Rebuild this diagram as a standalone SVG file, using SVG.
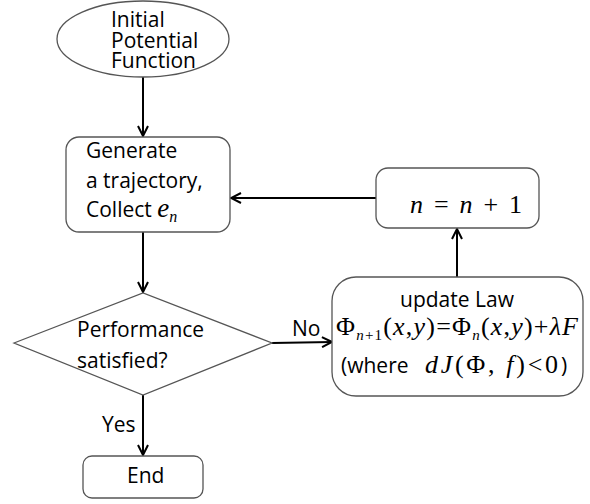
<svg xmlns="http://www.w3.org/2000/svg" width="590" height="504" viewBox="0 0 590 504">
<style>
.node{fill:#fff;stroke:#555;stroke-width:1.3}
.lbl{font-family:"Open Sans","Noto Sans","Liberation Sans",sans-serif;font-size:21px;fill:#000}
.math{font-family:"Liberation Serif","Times New Roman",serif;fill:#000}
.edge{fill:none;stroke:#000;stroke-width:2}
</style>
<defs>
<marker id="ah" viewBox="0 0 12 12" refX="11" refY="6" markerWidth="12" markerHeight="12" markerUnits="userSpaceOnUse" orient="auto">
<path d="M1,1 L11,6 L1,11" fill="none" stroke="#000" stroke-width="2"/>
</marker>
</defs>
<rect width="590" height="504" fill="#fff"/>
<g id="connectors">
<line class="edge" x1="143" y1="77" x2="143" y2="136" marker-end="url(#ah)"/>
<line class="edge" x1="143" y1="232" x2="143" y2="292" marker-end="url(#ah)"/>
<line class="edge" x1="143" y1="395" x2="143" y2="455" marker-end="url(#ah)"/>
<line class="edge" x1="272" y1="343" x2="332" y2="342" marker-end="url(#ah)"/>
<line class="edge" x1="457" y1="277" x2="457" y2="229" marker-end="url(#ah)"/>
<line class="edge" x1="376" y1="198" x2="231" y2="198" marker-end="url(#ah)"/>
<text class="lbl" x="292" y="336">No</text>
<text class="lbl" x="102" y="432">Yes</text>
</g>
<g id="start">
<ellipse class="node" cx="143" cy="39" rx="86" ry="38"/>
<text class="lbl" x="111" y="27">Initial</text>
<text class="lbl" x="111" y="48">Potential</text>
<text class="lbl" x="111" y="68">Function</text>
</g>
<g id="generate">
<rect class="node" x="66" y="137" width="164" height="95" rx="13"/>
<text class="lbl" x="86" y="158">Generate</text>
<text class="lbl" x="86" y="188">a trajectory,</text>
<text class="lbl" x="86" y="217">Collect <tspan class="math" font-style="italic" font-size="27">e</tspan><tspan class="math" font-style="italic" font-size="16" dy="5">n</tspan></text>
</g>
<g id="increment">
<rect class="node" x="376" y="168" width="163" height="60" rx="12"/>
<text class="math" x="410" y="213" font-size="26" textLength="112" lengthAdjust="spacing"><tspan font-style="italic">n</tspan> = <tspan font-style="italic">n</tspan> + 1</text>
</g>
<g id="decision">
<polygon class="node" points="14,343 143,293 272,343 143,395"/>
<text class="lbl" x="77" y="337">Performance</text>
<text class="lbl" x="77" y="368">satisfied?</text>
</g>
<g id="update">
<rect class="node" x="332" y="277" width="251" height="119" rx="24"/>
<text class="lbl" x="457" y="307" text-anchor="middle">update Law</text>
<text class="math" x="336" y="335" font-size="26" textLength="242" lengthAdjust="spacing">Φ<tspan font-style="italic" font-size="15" dy="5">n</tspan><tspan font-size="15">+1</tspan><tspan dy="-5">(</tspan><tspan font-style="italic">x</tspan>,<tspan font-style="italic">y</tspan>)=Φ<tspan font-style="italic" font-size="15" dy="5">n</tspan><tspan dy="-5">(</tspan><tspan font-style="italic">x</tspan>,<tspan font-style="italic">y</tspan>)+<tspan font-style="italic">λF</tspan></text>
<text class="lbl" x="341" y="373">(where</text>
<text class="math" x="425" y="373" font-size="26" textLength="133" lengthAdjust="spacing"><tspan font-style="italic">dJ</tspan>(Φ, <tspan font-style="italic">f</tspan>)&lt;0</text>
<text class="lbl" x="561" y="373">)</text>
</g>
<g id="end">
<rect class="node" x="83" y="456" width="120" height="42" rx="9"/>
<text class="lbl" x="127" y="483">End</text>
</g>
</svg>
